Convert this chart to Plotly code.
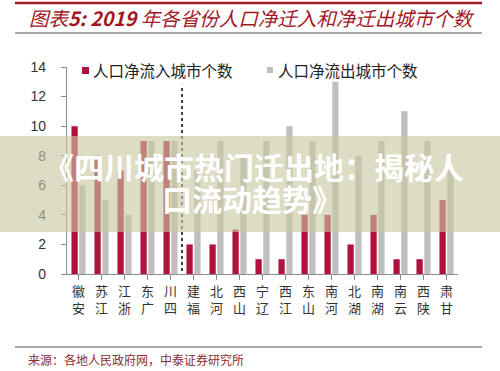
import plotly.graph_objects as go

provinces = ["安徽", "江苏", "浙江", "广东", "四川", "福建", "河北", "山西", "辽宁",
             "江西", "山东", "河南", "湖北", "湖南", "云南", "陕西", "甘肃"]
inflow = [10, 8, 7, 9, 9, 2, 2, 3, 1, 1, 4, 4, 2, 4, 1, 1, 5]
outflow = [6, 5, 4, 9, 9, 7, 9, 8, 9, 10, 9, 13, 8, 9, 11, 9, 7]
y_ticks = [0, 2, 4, 6, 8, 10, 12, 14]
series_names = ["人口净流入城市个数", "人口净流出城市个数"]
source_text = "来源：各地人民政府网，中泰证券研究所"
banner_lines = ["《四川城市热门迁出地：揭秘人", "口流动趋势》"]

W, H = 500, 371
ML, MR, MT, MB = 67, 42, 67, 97
PW, PH = W - ML - MR, H - MT - MB
plot_bottom = H - MB


def px(x):
    return (x - ML) / PW


def py(y):
    return (plot_bottom - y) / PH


RED = "#B0123B"
GRAY = "#BFBFBF"
CJK = "Noto Sans CJK SC"

# vertical stacked labels (upright characters reading bottom to top)
tick_text = [p[1] + "<br>" + p[0] for p in provinces]

fig = go.Figure()
fig.add_trace(go.Bar(x=list(range(len(provinces))), y=inflow, name=series_names[0],
                     marker=dict(color=RED, line=dict(width=0))))
fig.add_trace(go.Bar(x=list(range(len(provinces))), y=outflow, name=series_names[1],
                     marker=dict(color=GRAY, line=dict(width=0))))

shapes = []
annotations = []

# top red rule and grey rule under title
shapes.append(dict(type="line", xref="paper", yref="paper", x0=px(15), x1=px(482),
                   y0=py(3), y1=py(3), line=dict(color="#A01C22", width=2.5)))
shapes.append(dict(type="line", xref="paper", yref="paper", x0=px(15), x1=px(482),
                   y0=py(33), y1=py(33), line=dict(color="#8C8C8C", width=1.5)))
# bottom grey rule
shapes.append(dict(type="line", xref="paper", yref="paper", x0=px(15), x1=px(482),
                   y0=py(347), y1=py(347), line=dict(color="#8C8C8C", width=1.5)))

# dashed divider between 四川 and 福建
shapes.append(dict(type="line", xref="x", yref="y", x0=4.5, x1=4.5, y0=-0.2, y1=12.8,
                   line=dict(color="#111111", width=1.6, dash="3px,3px")))

# manual legend
shapes.append(dict(type="rect", xref="paper", yref="paper", x0=px(82), x1=px(89),
                   y0=py(74), y1=py(67), fillcolor=RED, line=dict(width=0)))
shapes.append(dict(type="rect", xref="paper", yref="paper", x0=px(267), x1=px(273),
                   y0=py(73), y1=py(67), fillcolor=GRAY, line=dict(width=0)))
annotations.append(dict(xref="paper", yref="paper", x=px(91), y=py(70), text=series_names[0],
                        showarrow=False, xanchor="left", yanchor="middle",
                        font=dict(family=CJK, size=15.5, color="#222222")))
annotations.append(dict(xref="paper", yref="paper", x=px(276), y=py(70), text=series_names[1],
                        showarrow=False, xanchor="left", yanchor="middle",
                        font=dict(family=CJK, size=15.5, color="#222222")))

# title
annotations.append(dict(xref="paper", yref="paper", x=px(27), y=py(17),
                        text="<i>图表<b>5: 2019</b> 年各省份人口净迁入和净迁出城市个数</i>",
                        showarrow=False, xanchor="left", yanchor="middle",
                        font=dict(family=CJK, size=19.5, color="#A3181F")))
# source
annotations.append(dict(xref="paper", yref="paper", x=px(26), y=py(359), text=source_text,
                        showarrow=False, xanchor="left", yanchor="middle",
                        font=dict(family=CJK, size=12, color="#8C2D2D")))

# overlay banner
shapes.append(dict(type="rect", xref="paper", yref="paper", x0=px(0), x1=px(500),
                   y0=py(232), y1=py(136), fillcolor="rgba(200,198,160,0.62)",
                   line=dict(width=0), layer="above"))
annotations.append(dict(xref="paper", yref="paper", x=px(254), y=py(166),
                        text="<b>" + banner_lines[0] + "</b>", showarrow=False,
                        xanchor="center", yanchor="middle",
                        font=dict(family=CJK, size=30, color="white")))
annotations.append(dict(xref="paper", yref="paper", x=px(252), y=py(198),
                        text="<b>" + banner_lines[1] + "</b>", showarrow=False,
                        xanchor="center", yanchor="middle",
                        font=dict(family=CJK, size=30, color="white")))

fig.update_layout(
    width=W, height=H,
    margin=dict(l=ML, r=MR, t=MT, b=MB, pad=0),
    paper_bgcolor="white", plot_bgcolor="white",
    barmode="group", bargap=0.32, bargroupgap=0.2,
    showlegend=False,
    shapes=shapes, annotations=annotations,
    xaxis=dict(range=[-0.5, len(provinces) - 0.5], tickmode="array",
               tickvals=list(range(len(provinces))), ticktext=tick_text,
               showline=True, linecolor="#8C8C8C", linewidth=1.2,
               ticks="outside", tickson="boundaries", ticklen=5, tickcolor="#8C8C8C",
               tickfont=dict(family=CJK, size=13, color="#333333"),
               showgrid=False, zeroline=False, fixedrange=True),
    yaxis=dict(range=[0, 14], tickmode="array", tickvals=y_ticks,
               showline=True, linecolor="#8C8C8C", linewidth=1.2,
               ticks="outside", ticklen=5, tickcolor="#8C8C8C",
               ticklabelstandoff=12,
               tickfont=dict(family="Liberation Sans", size=14, color="#333333"),
               showgrid=False, zeroline=False, fixedrange=True),
)

fig.write_html("out.html", config={"displayModeBar": False},
               post_script="document.body.style.margin='0px';document.body.style.overflow='hidden';")
